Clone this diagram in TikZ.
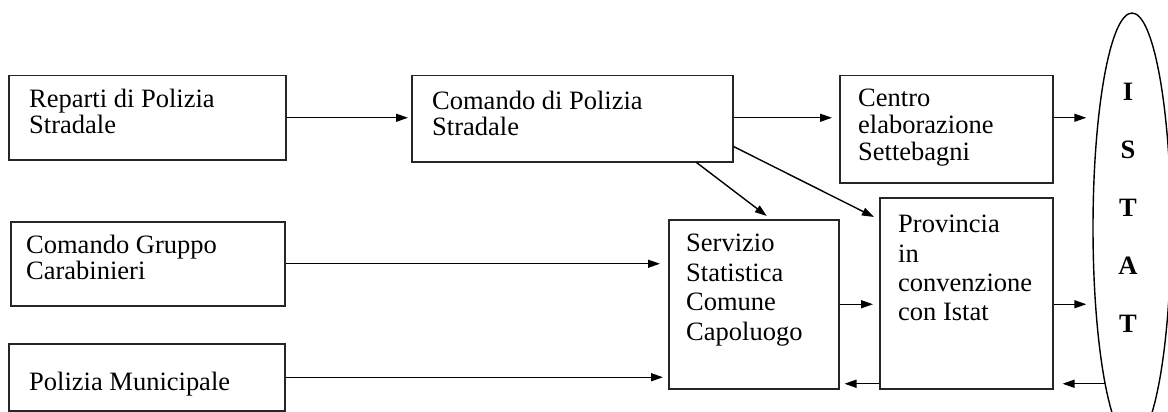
\documentclass[tikz,border=0pt]{standalone}
\usepackage{fontspec}
\setmainfont{Liberation Serif}
\usetikzlibrary{arrows.meta,shapes.geometric}
\tikzset{box/.style={draw=black!85, line width=1.5pt, anchor=north west, inner sep=0pt},
  txt/.style={anchor=north west, align=left, inner sep=0pt, font=\fontsize{26.5}{26}\selectfont},
  arr/.style={-{Triangle[length=12pt,width=8pt]}, line width=1.4pt}}

\begin{document}
\begin{tikzpicture}[x=1pt,y=-1pt]
       \useasboundingbox (0,0) rectangle (1168,412);
       % boxes
       \node[box, minimum width=277pt, minimum height=84pt] (rep) at (8,75) {};
       \node[box, minimum width=321pt, minimum height=86pt] (cmd) at (411,75) {};
       \node[box, minimum width=213pt, minimum height=107pt] (cen) at (839,75) {};
       \node[box, minimum width=274pt, minimum height=84pt] (car) at (10,221) {};
       \node[box, minimum width=276pt, minimum height=67pt] (mun) at (8,343) {};
       \node[box, minimum width=170pt, minimum height=169pt] (ser) at (668,219) {};
       \node[box, minimum width=173pt, minimum height=191pt] (pro) at (879,197) {};
       \node[draw, ellipse, line width=1.4pt, inner sep=0pt, minimum width=78pt, minimum height=430pt] (ist) at (1132,228) {};
       % texts
       \node[txt] (rep-t) at ([shift={(21,14)}]rep.north west) {Reparti di Polizia\\Stradale};
       \node[txt] (cmd-t) at ([shift={(21,16)}]cmd.north west) {Comando di Polizia\\Stradale};
       \node[txt, font=\fontsize{26.5}{27}\selectfont] (cen-t) at ([shift={(19,14)}]cen.north west) {Centro\\elaborazione\\Settebagni};
       \node[txt] (car-t) at ([shift={(16,14)}]car.north west) {Comando Gruppo\\Carabinieri};
       \node[txt, anchor=base west] (mun-t) at ([shift={(21,47)}]mun.north west) {Polizia Municipale};
       \node[txt, font=\fontsize{26.5}{29.5}\selectfont] (ser-t) at ([shift={(18,15)}]ser.north west) {Servizio\\Statistica\\Comune\\Capoluogo};
       \node[txt, font=\fontsize{26.5}{29.3}\selectfont] (pro-t) at ([shift={(19,18)}]pro.north west) {Provincia\\in\\convenzione\\con Istat};
       \node[anchor=north, align=center, inner sep=0pt, font=\fontsize{26.5}{58}\selectfont\bfseries] (ist-t) at (1128,83) {I\\S\\T\\A\\T};
       % connectors
       \draw[arr, shorten >=3pt] (rep.east) -- (rep.east -| cmd.west);
       \draw[arr, shorten >=7pt] (rep.east -| cmd.east) -- (rep.east -| cen.west);
       \draw[arr, shorten >=6pt] (rep.east -| cen.east) -- (rep.east -| ist.west);
       \draw[arr] ([xshift=-37pt]cmd.south east) -- ([xshift=13pt,yshift=3pt]ser.north);
       \draw[arr] ([yshift=16pt]cmd.south east) -- ([xshift=-5pt,yshift=-20pt]pro.north west);
       \draw[arr, shorten >=8pt] (car.east) -- (car.east -| ser.west);
       \draw[arr, shorten >=5pt] (mun.east) -- (mun.east -| ser.west);
       \draw[arr, shorten >=6pt] (ser.east) -- (ser.east -| pro.west);
       \draw[arr, shorten >=6pt] (ser.east -| pro.east) -- (ser.east -| ist.west);
       \draw[arr, shorten >=9pt] (ist.260) -- (ist.260 -| pro.east);
       \draw[arr, shorten >=5pt] (ist.260 -| pro.west) -- (ist.260 -| ser.east);
      \end{tikzpicture}
\end{document}
